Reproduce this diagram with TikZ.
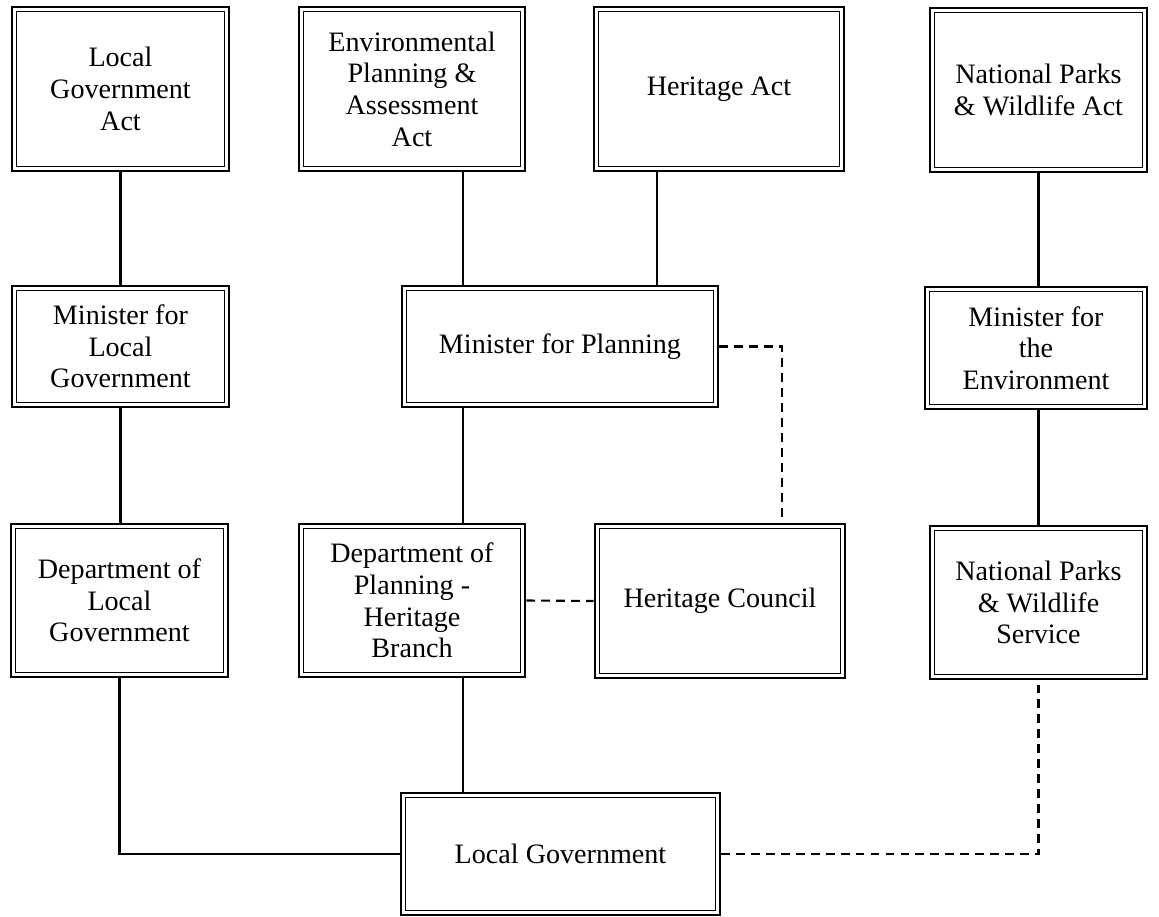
\documentclass[tikz,border=0pt]{standalone}
\usepackage{fontspec}
\setmainfont{Liberation Serif}
\usetikzlibrary{calc, positioning}

\begin{document}
\begin{tikzpicture}[x=0.02cm, y=-0.02cm,
    font=\fontsize{16}{18}\selectfont,
    box/.style={draw, line width=1.5pt, align=center, inner sep=0pt},
    link/.style={line width=1.2pt},
    dlink/.style={line width=1.2pt, dash pattern=on 5pt off 3.5pt}]
    \useasboundingbox (0,0) rectangle (1159,916);

    % Acts
    \node[box, minimum width=4.34cm, minimum height=3.28cm] (lga) at (120.5,89) {Local\\Government\\Act};
    \node[box, minimum width=4.52cm, minimum height=3.28cm] (env) at (412,89) {Environmental\\Planning \&\\Assessment\\Act};
    \node[box, minimum width=5.0cm, minimum height=3.28cm] (hact) at (719,89) {Heritage Act};
    \node[box, minimum width=4.34cm, minimum height=3.28cm] (npwa) at (1038.5,90) {National Parks\\\& Wildlife Act};

    % Ministers
    \node[box, minimum width=4.34cm, minimum height=2.42cm] (mlg) at (120.5,346.5) {Minister for\\Local\\Government};
    \node[box, minimum width=6.32cm, minimum height=2.42cm] (mp) at (560,346.5) {Minister for Planning};
    \node[box, minimum width=4.44cm, minimum height=2.44cm] (mfe) at (1036,348) {Minister for\\the\\Environment};

    % Departments
    \node[box, minimum width=4.34cm, minimum height=3.06cm] (dlg) at (119.5,600.5) {Department of\\Local\\Government};
    \node[box, minimum width=4.52cm, minimum height=3.06cm] (dphb) at (412,600.5) {Department of\\Planning -\\Heritage\\Branch};
    \node[box, minimum width=5.0cm, minimum height=3.08cm] (hc) at (720,601) {Heritage Council};
    \node[box, minimum width=4.34cm, minimum height=3.06cm] (npws) at (1038.5,602.5) {National Parks\\\& Wildlife\\Service};

    % Council
    \node[box, minimum width=6.38cm, minimum height=2.44cm] (lg) at (560.5,854) {Local Government};

    % inner frame of each box
    \foreach \n in {lga,env,hact,npwa,mlg,mp,mfe,dlg,dphb,hc,npws,lg}
        \draw[line width=0.7pt] ([shift={(6,6)}]\n.north west) rectangle ([shift={(-6,-6)}]\n.south east);

    % solid links
    \draw[link] (lga.south) -- (mlg.north);
    \draw[link] (mlg.south) -- (mlg.south |- dlg.north);
    \draw[link] (dlg.south) |- (lg.west);
    \draw[link] ([xshift=1.02cm]env.south) -- ([xshift=1.02cm]env.south |- mp.north);
    \draw[link] ([xshift=-1.24cm]hact.south) -- ([xshift=-1.24cm]hact.south |- mp.north);
    \draw[link] ([xshift=1.02cm]dphb.north |- mp.south) -- ([xshift=1.02cm]dphb.north);
    \draw[link] ([xshift=1.02cm]dphb.south) -- ([xshift=1.02cm]dphb.south |- lg.north);
    \draw[link] (npwa.south) -- (npwa.south |- mfe.north);
    \draw[link] (npws.north |- mfe.south) -- (npws.north);

    % dashed links
    \draw[dlink] (mp.east) -| ([xshift=1.24cm]hc.north);
    \draw[dlink] (dphb.east) -- (hc.west);
    \draw[dlink] (lg.east) -| (npws.south);
\end{tikzpicture}
\end{document}
